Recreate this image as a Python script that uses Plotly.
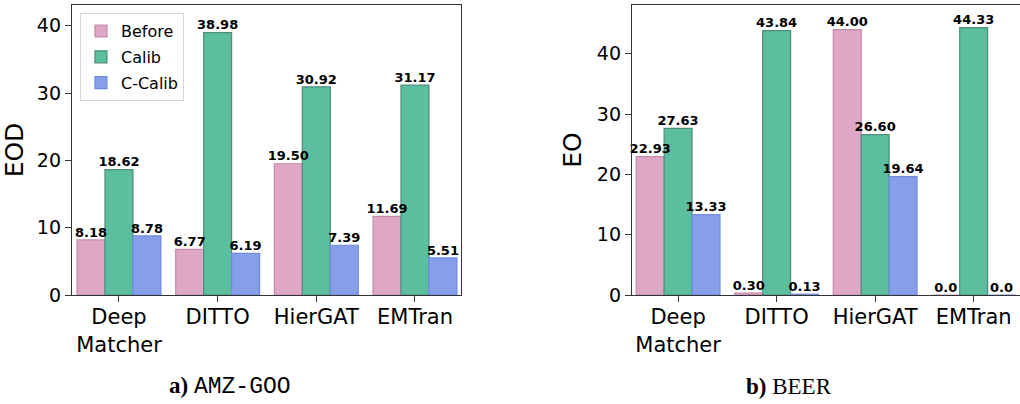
import plotly.graph_objects as go

categories = ["Deep<br>Matcher", "DITTO", "HierGAT", "EMTran"]
series_names = ["Before", "Calib", "C-Calib"]

# a) AMZ-GOO (EOD)
amz_before = [8.18, 6.77, 19.50, 11.69]
amz_calib = [18.62, 38.98, 30.92, 31.17]
amz_ccalib = [8.78, 6.19, 7.39, 5.51]

# b) BEER (EO)
beer_before = [22.93, 0.30, 44.00, 0.0]
beer_calib = [27.63, 43.84, 26.60, 44.33]
beer_ccalib = [13.33, 0.13, 19.64, 0.0]

fills = ["#dea7c6", "#5bbf9f", "#869fe8"]
edges = ["#c48aa8", "#4f8c7c", "#6f8ce0"]


def fmt(v):
    return "0.0" if v == 0 else f"{v:.2f}"


fig = go.Figure()

panels = [([amz_before, amz_calib, amz_ccalib], "x", "y"),
          ([beer_before, beer_calib, beer_ccalib], "x2", "y2")]

for p, (series, xa, ya) in enumerate(panels):
    for idx, vals in enumerate(series):
        fig.add_trace(go.Bar(
            x=categories, y=vals, name=series_names[idx],
            xaxis=xa, yaxis=ya, showlegend=(p == 0), legendgroup=series_names[idx],
            offsetgroup=str(idx),
            marker=dict(color=fills[idx], line=dict(color=edges[idx], width=1.2)),
        ))
# value labels drawn on top of all bars
for p, (series, xa, ya) in enumerate(panels):
    for idx, vals in enumerate(series):
        fig.add_trace(go.Scatter(
            x=categories, y=vals, xaxis=xa, yaxis=ya, mode="text", showlegend=False,
            offsetgroup=str(idx), hoverinfo="skip",
            text=[fmt(v) for v in vals], textposition="top center",
            textfont=dict(family="DejaVu Sans", size=13, color="black", weight="bold"),
            cliponaxis=False,
        ))

axis_common = dict(showline=True, linecolor="#333333", linewidth=1.3,
                   ticks="outside", ticklen=6, tickwidth=1.3, tickcolor="#333333",
                   showgrid=False, zeroline=False, automargin=False)

fig.update_layout(
    template="none",
    width=1020, height=404,
    margin=dict(l=72, r=0, t=5, b=109),
    paper_bgcolor="white", plot_bgcolor="white",
    barmode="group", bargap=0.15, bargroupgap=0,
    scattermode="group", scattergap=0.15,
    font=dict(family="DejaVu Sans", color="black"),
    xaxis=dict(domain=[0, 0.4103], range=[-0.476, 3.466], mirror=True,
               tickfont=dict(size=21), ticklabelstandoff=-3, anchor="y", **axis_common),
    yaxis=dict(domain=[0, 1], range=[0, 43.08], mirror=True, dtick=10,
               tickfont=dict(size=19), title=dict(text="EOD", font=dict(size=25), standoff=8),
               anchor="x", **axis_common),
    xaxis2=dict(domain=[0.5907, 1], range=[-0.468, 3.47], mirror=True,
                tickfont=dict(size=21), ticklabelstandoff=-3, anchor="y2", **axis_common),
    yaxis2=dict(domain=[0, 1], range=[0, 48.08], dtick=10,
                tickfont=dict(size=19), title=dict(text="EO", font=dict(size=25), standoff=8),
                anchor="x2", **axis_common),
    legend=dict(x=0.0084, y=0.972, xanchor="left", yanchor="top",
                bgcolor="white", bordercolor="#d6d6d6", borderwidth=1,
                font=dict(size=16), itemwidth=30, tracegroupgap=2),
    annotations=[
        dict(text="<b>a)</b> <span style='font-family:Liberation Mono'>AMZ-GOO</span>",
             xref="paper", yref="paper", x=0.1667, y=-0.317, xanchor="center", yanchor="middle",
             showarrow=False, font=dict(family="Liberation Serif", size=23)),
        dict(text="<b>b)</b> BEER",
             xref="paper", yref="paper", x=0.756, y=-0.317, xanchor="center", yanchor="middle",
             showarrow=False, font=dict(family="Liberation Serif", size=23)),
    ],
)

fig.write_html("out.html", config={"displayModeBar": False},
               post_script="document.body.style.margin='0px';document.body.style.overflow='hidden';")
